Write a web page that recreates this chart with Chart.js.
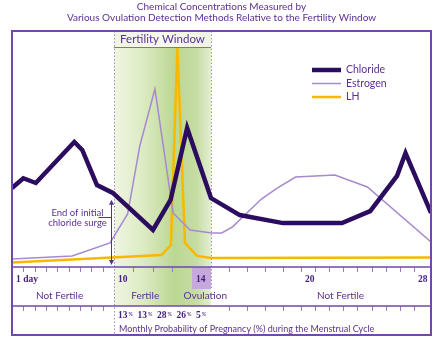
<!DOCTYPE html>
<html>
<head>
<meta charset="utf-8">
<script src="https://cdn.jsdelivr.net/npm/chart.js@4.4.1/dist/chart.umd.min.js"></script>
<style>
    body { margin: 0; background: #fff; }
    canvas { display: block; background: #fff; }
</style>
</head>
<body>
<canvas id="cycleChart" width="441" height="346"></canvas>
<script>
/* ===== Data ===== */
const chlorideDays  = [1, 2.0, 3.1, 6.5, 7.2, 8.5, 9.9, 12.0, 12.9, 13.75, 15.0, 16.6, 19.0, 22.9, 24.9, 26.8, 27.4, 29];
const chlorideLevel = [33.5, 37.6, 35.6, 53.0, 49.6, 34.7, 31.4, 15.7, 28.4, 58.9, 29.2, 22.0, 18.6, 18.6, 23.7, 38.6, 48.3, 22.9];

const estrogenDays  = [1, 6.3, 9.65, 10.7, 11.33, 12.1, 13.03, 13.9, 15.05, 15.6, 16.2, 17.8, 18.7, 19.7, 22.4, 24.7, 29];
const estrogenLevel = [3.4, 4.7, 10.2, 22.5, 51.5, 75.4, 22.9, 15.7, 14.4, 14.4, 17.0, 28.8, 33.5, 38.1, 39.0, 33.9, 10.6];

const lhDays  = [1, 12.44, 12.92, 13.08, 13.25, 13.64, 14.26, 15, 29];
const lhLevel = [1.9, 5.1, 9.3, 50.8, 92.8, 10.2, 4.7, 3.8, 4.0];

const dayLabels = [1, 10, 14, 20, 28];
const phaseNames = ['Not Fertile', 'Fertile', 'Ovulation', 'Not Fertile'];
const phaseCenters = [5.2, 11.6, 14.7, 22.8];
const chanceDays = [10, 11, 12, 13, 14];
const chanceValues = [13, 13, 28, 26, 5];

const fertileStart = 10;
const fertileEnd = 15;
const ovulationDay = 14;
const surgeEndDay = 9.75;


/* ===== Cycle scale (days are not evenly spaced along the strip) ===== */
const dayStops = [1, 10, 14, 15, 20, 28, 29];
const stopFractions = [0, 0.2434, 0.4296, 0.4749, 0.6897, 0.9594, 1];

function interp(v, from, to){
    for(let i = 1; i < from.length; i++){
        if(v <= from[i] || i === from.length - 1){
            const t = (v - from[i-1]) / (from[i] - from[i-1]);
            return to[i-1] + t * (to[i] - to[i-1]);
        }
    }
}

class CycleScale extends Chart.LinearScale {
    getPixelForValue(value){
        if(value === null || value === undefined) return NaN;
        return this.getPixelForDecimal(interp(value, dayStops, stopFractions));
    }
    getValueForPixel(pixel){
        return interp(this.getDecimalForPixel(pixel), stopFractions, dayStops);
    }
}
CycleScale.id = 'cycle';
CycleScale.defaults = Chart.LinearScale.defaults;
Chart.register(CycleScale);


/* ===== Colours & fonts ===== */
const framePurple = '#7049ab';
const textPurple = '#5b2f92';
const numPurple = '#46217c';
const dotPurple = '#a386cc';
const sans = 'Lato, "DejaVu Sans", sans-serif';
const serif = '"Liberation Serif", "DejaVu Serif", serif';

function pairs(xs, ys){
    return xs.map((d, i) => ({x: d, y: ys[i]}));
}


/* ===== Strip, window and labels ===== */
const cycleDecor = {
    id: 'cycleDecor',
    beforeDatasetsDraw(chart){
        const {ctx, chartArea: area, scales: {x}} = chart;
        const x0 = x.getPixelForValue(fertileStart);
        const x1 = x.getPixelForValue(fertileEnd);
        const headerBottom = area.top + 16;
        const bandBottom = area.bottom + 39;
        ctx.save();

        // fertility window shading
        const g = ctx.createLinearGradient(x0, 0, x1, 0);
        g.addColorStop(0, '#eff6e2');
        g.addColorStop(0.3, '#dcebc3');
        g.addColorStop(0.62, '#bcd793');
        g.addColorStop(0.85, '#c6dca3');
        g.addColorStop(1, '#e3efd2');
        ctx.fillStyle = g;
        ctx.fillRect(x0, headerBottom, x1 - x0, bandBottom - headerBottom);

        const h = ctx.createLinearGradient(x0, 0, x1, 0);
        h.addColorStop(0, '#eef5e1');
        h.addColorStop(0.5, '#f6faee');
        h.addColorStop(1, '#eef5e1');
        ctx.fillStyle = h;
        ctx.fillRect(x0, area.top, x1 - x0, headerBottom - area.top);

        ctx.strokeStyle = '#8d68c0';
        ctx.lineWidth = 1;
        ctx.beginPath();
        ctx.moveTo(x0, headerBottom + 0.5);
        ctx.lineTo(x1, headerBottom + 0.5);
        ctx.stroke();

        ctx.fillStyle = textPurple;
        ctx.font = '11.5px ' + sans;
        ctx.textAlign = 'center';
        ctx.textBaseline = 'middle';
        ctx.fillText('Fertility Window', (x0 + x1) / 2, area.top + 8);

        // dotted window edges
        ctx.strokeStyle = dotPurple;
        ctx.setLineDash([1.5, 2]);
        ctx.beginPath();
        ctx.moveTo(x0 + 0.5, area.top);
        ctx.lineTo(x0 + 0.5, area.bottom + 68);
        ctx.moveTo(x1 + 0.5, area.top);
        ctx.lineTo(x1 + 0.5, area.bottom + 23);
        ctx.stroke();
        ctx.restore();
    },
    afterDatasetsDraw(chart){
        const {ctx, chartArea: area, scales: {x, y}} = chart;
        const bandTop = area.bottom;
        const bandMid = area.bottom + 39;
        const bandBottom = area.bottom + 68;
        ctx.save();

        // ovulation day box
        const o0 = x.getPixelForValue(ovulationDay);
        const o1 = x.getPixelForValue(ovulationDay + 1);
        ctx.fillStyle = '#c6a8dc';
        ctx.fillRect(o0, bandTop, o1 - o0, 22);

        // ticks
        ctx.strokeStyle = '#9a7bc6';
        ctx.lineWidth = 1;
        ctx.beginPath();
        for(let d = 2; d <= 28; d++){
            const px = Math.round(x.getPixelForValue(d)) + 0.5;
            if(d !== 10 && d !== 14 && d !== 15){
                ctx.moveTo(px, bandTop);
                ctx.lineTo(px, bandTop + 5);
            }
            if(d < 10 || d > 15){
                ctx.moveTo(px, bandMid);
                ctx.lineTo(px, bandMid + 5);
            }
        }
        ctx.stroke();

        // frame and strip dividers
        ctx.strokeStyle = framePurple;
        ctx.lineWidth = 2;
        ctx.strokeRect(area.left, area.top, area.right - area.left, bandBottom - area.top);
        ctx.lineWidth = 1.5;
        ctx.beginPath();
        ctx.moveTo(area.left, bandTop);
        ctx.lineTo(area.right, bandTop);
        ctx.moveTo(area.left, bandMid);
        ctx.lineTo(area.right, bandMid);
        ctx.stroke();

        // day numbers
        ctx.textBaseline = 'middle';
        ctx.textAlign = 'left';
        ctx.fillStyle = numPurple;
        ctx.font = 'bold 9.5px ' + serif;
        dayLabels.forEach(d => {
            const label = d === 1 ? '1 day' : String(d);
            ctx.fillText(label, x.getPixelForValue(d) + 4, bandTop + 13);
        });

        // phases
        ctx.textAlign = 'center';
        ctx.fillStyle = textPurple;
        ctx.font = '10px ' + sans;
        phaseNames.forEach((name, i) => {
            ctx.fillText(name, x.getPixelForValue(phaseCenters[i]), bandTop + 29);
        });

        // pregnancy chance per day
        ctx.textAlign = 'left';
        chanceDays.forEach((d, i) => {
            const px = x.getPixelForValue(d) + 4;
            ctx.fillStyle = numPurple;
            ctx.font = 'bold 9.5px ' + serif;
            const num = String(chanceValues[i]);
            ctx.fillText(num, px, bandMid + 10);
            const w = ctx.measureText(num).width;
            ctx.font = '5.5px ' + sans;
            ctx.fillText('%', px + w + 1, bandMid + 8);
        });
        ctx.fillStyle = textPurple;
        ctx.font = '9px ' + sans;
        ctx.fillText('Monthly Probability of Pregnancy (%) during the Menstrual Cycle',
            x.getPixelForValue(fertileStart) + 5, bandMid + 23);

        // legend
        chart.data.datasets.forEach((ds, i) => {
            const ly = area.top + 39 + i * 13.5;
            ctx.strokeStyle = ds.borderColor;
            ctx.lineWidth = ds.borderWidth;
            ctx.beginPath();
            ctx.moveTo(312, ly);
            ctx.lineTo(341, ly);
            ctx.stroke();
            ctx.fillStyle = textPurple;
            ctx.font = '10.5px ' + sans;
            ctx.fillText(ds.label, 346, ly);
        });

        // end of initial chloride surge marker
        const ax = Math.round(x.getPixelForValue(surgeEndDay)) + 0.5;
        const aTop = y.getPixelForValue(28.5);
        const aBot = y.getPixelForValue(0.8);
        ctx.strokeStyle = '#5b2f92';
        ctx.fillStyle = '#5b2f92';
        ctx.lineWidth = 1;
        ctx.beginPath();
        ctx.moveTo(ax, aTop + 3);
        ctx.lineTo(ax, aBot - 3);
        ctx.moveTo(ax - 13, 217.5);
        ctx.lineTo(ax, 217.5);
        ctx.stroke();
        ctx.beginPath();
        ctx.moveTo(ax, aTop);
        ctx.lineTo(ax - 2.5, aTop + 5);
        ctx.lineTo(ax + 2.5, aTop + 5);
        ctx.closePath();
        ctx.moveTo(ax, aBot);
        ctx.lineTo(ax - 2.5, aBot - 5);
        ctx.lineTo(ax + 2.5, aBot - 5);
        ctx.closePath();
        ctx.fill();

        ctx.textAlign = 'center';
        ctx.font = '9.5px ' + sans;
        ctx.fillText('End of initial', ax - 34, 212.5);
        ctx.fillText('chloride surge', ax - 34, 222.5);
        ctx.restore();
    }
};


/* ===== Chart ===== */
const cycleChart = new Chart(document.getElementById('cycleChart'), {
    type: 'line',
    data: {
        datasets: [{
            label: 'Chloride',
            data: pairs(chlorideDays, chlorideLevel),
            borderColor: '#2b0c5e',
            borderWidth: 4.5
        }, {
            label: 'Estrogen',
            data: pairs(estrogenDays, estrogenLevel),
            borderColor: '#a68ace',
            borderWidth: 1.5
        }, {
            label: 'LH',
            data: pairs(lhDays, lhLevel),
            borderColor: '#f9b800',
            borderWidth: 2.5
        }]
    },
    options: {
        responsive: false,
        animation: false,
        devicePixelRatio: 1,
        elements: {
            point: { radius: 0 },
            line: { tension: 0, borderJoinStyle: 'miter', fill: false }
        },
        layout: { padding: { left: 12, right: 10, top: 0, bottom: 79 } },
        scales: {
            x: { type: 'cycle', min: 1, max: 29, display: false },
            y: { min: 0, max: 100, display: false }
        },
        plugins: {
            legend: { display: false },
            tooltip: { enabled: false },
            title: {
                display: true,
                text: ['Chemical Concentrations Measured by',
                       'Various Ovulation Detection Methods Relative to the Fertility Window'],
                color: textPurple,
                font: { family: sans, size: 10, weight: 'normal', lineHeight: 1.1 },
                padding: { top: 1, bottom: 8 }
            }
        }
    },
    plugins: [cycleDecor]
});
</script>
</body>
</html>
